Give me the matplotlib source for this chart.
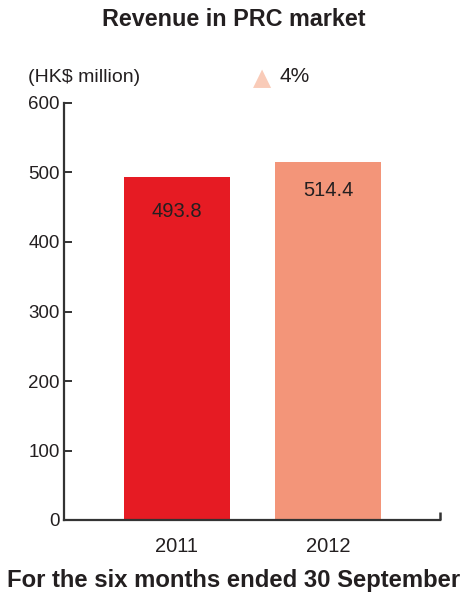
import matplotlib
matplotlib.use("Agg")
from matplotlib import pyplot as plt

years = ["2011", "2012"]
revenue = [493.8, 514.4]
growth = "4%"
yticks = [0, 100, 200, 300, 400, 500, 600]

bar_colors = ["#E61B23", "#F39579"]
label_offsets = [-35, -28]  # pixels below bar top
ink = "#231F20"

plt.rcParams["font.family"] = ["Liberation Sans", "DejaVu Sans"]

fig = plt.figure(figsize=(4.67, 5.92), dpi=100)
ax = fig.add_axes([64 / 467, 72 / 592, 376 / 467, 417 / 592])

x = list(range(len(years)))
ax.bar(x, revenue, width=0.70, color=bar_colors, zorder=1)

for xi, v, off in zip(x, revenue, label_offsets):
    ax.annotate(f"{v:.1f}", (xi, v), xytext=(0, off * 0.72), textcoords="offset points",
                ha="center", va="center", fontsize=14.5, color=ink)

ax.set_xlim(-0.748, 1.742)
ax.set_ylim(0, 600)
ax.set_yticks(yticks)
ax.set_yticklabels([str(t) for t in yticks])
ax.set_xticks(x)
ax.set_xticklabels(years)

for side in ["top", "right"]:
    ax.spines[side].set_visible(False)
for side in ["left", "bottom"]:
    ax.spines[side].set_color("#333333")
    ax.spines[side].set_linewidth(1.6)
    ax.spines[side].set_zorder(3)

ax.tick_params(axis="y", direction="in", length=6, width=1.4, color="#333333",
               labelsize=13.5, labelcolor=ink, pad=3)
ax.tick_params(axis="x", length=0, labelsize=14.5, labelcolor=ink, pad=12)

# small upward tick closing the x axis on the right
ax.plot([1.742, 1.742], [0, 11], color="#333333", lw=1.8, clip_on=False,
        solid_capstyle="butt", zorder=3)

fig.text(0.5, 1 - 20 / 592, "Revenue in PRC market", ha="center", va="center",
         fontsize=16.8, fontweight="bold", color=ink)
fig.text(28 / 467, 1 - 77 / 592, "(HK$ million)", ha="left", va="center",
         fontsize=14, color=ink)
fig.text(262 / 467, 1 - 78 / 592, "\u25B2", ha="center", va="center",
         fontsize=17, color="#F9CBB8", family=["DejaVu Sans"])
fig.text(280 / 467, 1 - 77 / 592, growth, ha="left", va="center",
         fontsize=15, color=ink)
fig.text(0.5, 1 - 580 / 592, "For the six months ended 30 September", ha="center",
         va="center", fontsize=17.2, fontweight="bold", color=ink)

fig.savefig("out.png", dpi=100)
